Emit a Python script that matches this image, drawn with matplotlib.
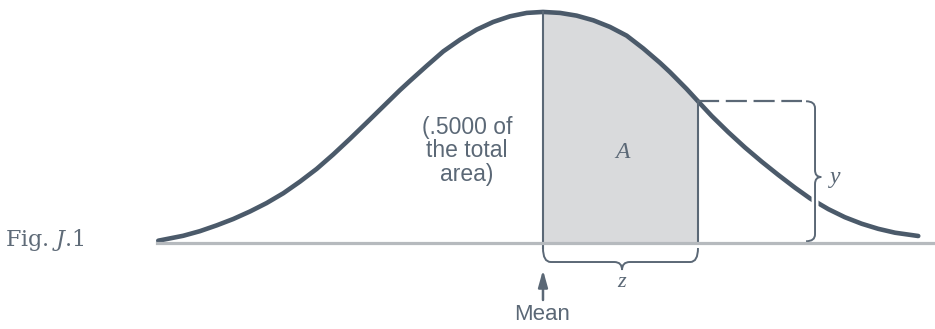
import numpy as np
import matplotlib
matplotlib.use('Agg')
import matplotlib.pyplot as plt
from matplotlib.path import Path
from matplotlib.patches import PathPatch
import matplotlib.patheffects as pe

# normal curve: z (std units) and ordinate y
z_pts = [-2.482, -2.321, -2.213, -2.105, -1.998, -1.890, -1.783, -1.675, -1.568, -1.460,
         -1.353, -1.245, -1.137, -1.030, -0.923, -0.858, -0.750, -0.643, -0.535, -0.428,
         -0.321, -0.213, -0.105, 0.000, 0.110, 0.217, 0.325, 0.432, 0.540, 0.647,
         0.755, 0.819, 0.927, 1.000, 1.088, 1.195, 1.303, 1.411, 1.518, 1.626,
         1.723, 1.841, 1.948, 2.056, 2.163, 2.271, 2.421]
y_pts = [0.0040, 0.0125, 0.0205, 0.0305, 0.0415, 0.0545, 0.0690, 0.0860, 0.1060, 0.1280,
         0.1530, 0.1800, 0.2080, 0.2360, 0.2640, 0.2800, 0.3060, 0.3310, 0.3512, 0.3685,
         0.3818, 0.3915, 0.3974, 0.3991, 0.3974, 0.3927, 0.3846, 0.3732, 0.3581, 0.3360,
         0.3112, 0.2952, 0.2660, 0.2448, 0.2195, 0.1915, 0.1650, 0.1405, 0.1176, 0.0955,
         0.0770, 0.0585, 0.0445, 0.0333, 0.0245, 0.0178, 0.0121]

z_mark = 1.00          # right edge of shaded area A
area_note = "(.5000 of\nthe total\narea)"

CURVE = '#4b5a6a'
INK = '#5b6876'
SHADE = '#d9dadc'

plt.rcParams['mathtext.fontset'] = 'dejavuserif'

fig = plt.figure(figsize=(9.35, 3.29), dpi=100)
ax = fig.add_axes([0, 0, 1, 1])
ax.set_xlim(-3.503, 2.529)
ax.set_ylim(-0.1485, 0.4197)
ax.axis('off')

z = np.array(z_pts)
y = np.array(y_pts)
y_mark = y[np.argmin(abs(z - z_mark))]
y_top = y[np.argmin(abs(z))]

# shaded area between mean and z
sel = (z >= 0) & (z <= z_mark)
ax.fill_between(z[sel], 0, y[sel], color=SHADE, lw=0, zorder=1)

ax.plot(z, y, color=CURVE, lw=3.3, solid_capstyle='round', solid_joinstyle='round', zorder=2)

# vertical lines
ax.plot([0, 0], [y_top, -0.0086], color=INK, lw=1.5, zorder=3)
ax.plot([z_mark, z_mark], [y_mark, 0], color=INK, lw=1.5, zorder=3)


def vbrace(x, ytop, ybot, w, h, tipw, ymid):
    verts = [(x - w, ytop), (x, ytop), (x, ytop - h),
             (x, ymid + h), (x, ymid), (x + tipw, ymid),
             (x, ymid), (x, ymid - h),
             (x, ybot + h), (x, ybot), (x - w, ybot)]
    codes = [Path.MOVETO, Path.CURVE3, Path.CURVE3,
             Path.LINETO, Path.CURVE3, Path.CURVE3,
             Path.CURVE3, Path.CURVE3,
             Path.LINETO, Path.CURVE3, Path.CURVE3]
    return Path(verts, codes)


def hbrace(x0, x1, ytop, yline, ytip, xtip, w):
    verts = [(x0, ytop), (x0, yline), (x0 + w, yline),
             (xtip - w, yline), (xtip, yline), (xtip, ytip),
             (xtip, yline), (xtip + w, yline),
             (x1 - w, yline), (x1, yline), (x1, ytop)]
    codes = [Path.MOVETO, Path.CURVE3, Path.CURVE3,
             Path.LINETO, Path.CURVE3, Path.CURVE3,
             Path.CURVE3, Path.CURVE3,
             Path.LINETO, Path.CURVE3, Path.CURVE3]
    return Path(verts, codes)


# brace for y (ordinate at z)
bp = PathPatch(vbrace(1.755, y_mark, 0.003, 0.058, 0.012, 0.04, 0.114),
               fill=False, edgecolor=INK, lw=1.4, zorder=3,
               path_effects=[pe.Stroke(linewidth=5, foreground='white'), pe.Normal()])
ax.add_patch(bp)

# dashed ordinate line
ax.plot([z_mark, 1.672], [y_mark, y_mark], color=INK, lw=1.6,
        dashes=(9.5, 3), zorder=4)

# baseline
ax.plot([-2.49, 2.529], [0, 0], color='#b6babe', lw=2.3, zorder=4)

# brace for z
zb = PathPatch(hbrace(0, z_mark, -0.0086, -0.0328, -0.0466, 0.51, 0.05),
               fill=False, edgecolor=INK, lw=1.4, zorder=3)
ax.add_patch(zb)

# arrow to mean
ax.annotate('', xy=(0, -0.0466), xytext=(0, -0.0984),
            arrowprops=dict(arrowstyle='-|>,head_length=1.0,head_width=0.28',
                            color=INK, lw=1.8, shrinkA=0, shrinkB=0))

ax.text(-0.49, 0.159, area_note, ha='center', va='center', multialignment='center',
        fontsize=16.5, family='Liberation Sans', color=INK, linespacing=1.05)
ax.text(0.51, 0.157, 'A', ha='center', va='center', fontsize=17,
        family='Liberation Serif', style='italic', color=INK)
ax.text(1.884, 0.114, 'y', ha='center', va='center', fontsize=17,
        family='Liberation Serif', style='italic', color=INK)
ax.text(0.51, -0.069, 'z', ha='center', va='center', fontsize=16,
        family='Liberation Serif', style='italic', color=INK)
ax.text(-0.006, -0.124, 'Mean', ha='center', va='center', fontsize=16,
        family='Liberation Sans', color=INK)
ax.text(-3.21, 0.006, r'Fig. $J$.1', ha='center', va='center', fontsize=16,
        family='DejaVu Serif', color='#5f6b78')

fig.savefig('out.png', dpi=100)
